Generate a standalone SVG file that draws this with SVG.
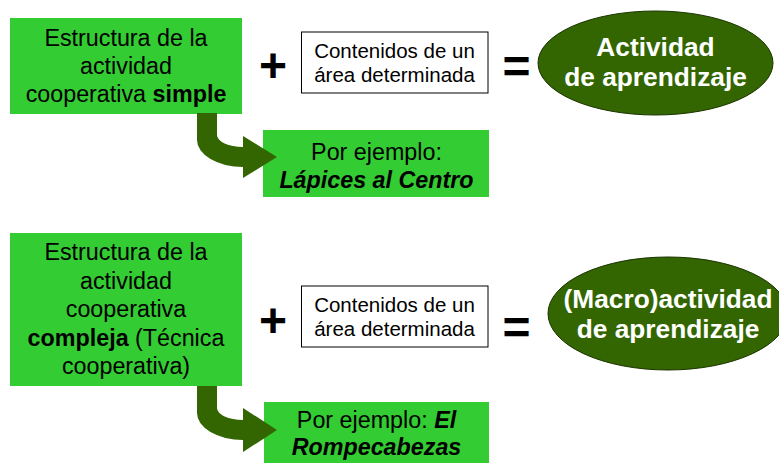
<svg xmlns="http://www.w3.org/2000/svg" width="779" height="463" viewBox="0 0 779 463">
<style>
  .g{fill:#33cc33}
  .w{fill:#ffffff;stroke:#000000;stroke-width:1}
  .e{fill:#336600;stroke:#1a3300;stroke-width:1}
  .t{font-family:"Liberation Sans",Arial,sans-serif;fill:#000000;text-anchor:middle}
  .tg{font-size:23.3px}
  .tw{font-size:20.5px}
  .te{font-size:26.3px;font-weight:bold;fill:#ffffff}
  .op{font-family:"Liberation Sans",Arial,sans-serif;font-weight:bold;font-size:48px;text-anchor:middle;fill:#000}
  .b{font-weight:bold}
  .bi{font-weight:bold;font-style:italic}
  .arr{fill:#336600}
</style>
<rect width="779" height="463" fill="#ffffff"/>

<g id="box-simple">
  <rect class="g" x="10" y="18" width="232" height="96"/>
  <text class="t tg" x="126" y="45.5">Estructura de la</text>
  <text class="t tg" x="126" y="74">actividad</text>
  <text class="t tg" x="126" y="102">cooperativa <tspan class="b">simple</tspan></text>
</g>

<g id="plus1"><text class="op" x="273" y="82">+</text></g>

<g id="contenidos1">
  <rect class="w" x="301.5" y="32" width="186.5" height="61"/>
  <text class="t tw" x="394.5" y="58">Contenidos de un</text>
  <text class="t tw" x="394.5" y="82">área determinada</text>
</g>

<g id="equals1"><text class="op" x="516.5" y="83">=</text></g>

<g id="actividad1">
  <ellipse class="e" cx="655.5" cy="63" rx="117.5" ry="52"/>
  <text class="t te" x="655.5" y="56">Actividad</text>
  <text class="t te" x="655.5" y="86">de aprendizaje</text>
</g>

<g id="ejemplo1">
  <rect class="g" x="263" y="130" width="226" height="67"/>
  <text class="t tg" x="376.5" y="160">Por ejemplo:</text>
  <text class="t tg bi" x="376.5" y="188">Lápices al Centro</text>
</g>

<g id="box-compleja">
  <rect class="g" x="10" y="233" width="232" height="153"/>
  <text class="t tg" x="126" y="260">Estructura de la</text>
  <text class="t tg" x="126" y="288.5">actividad</text>
  <text class="t tg" x="126" y="317">cooperativa</text>
  <text class="t tg" x="126" y="345.5"><tspan class="b">compleja</tspan> (Técnica</text>
  <text class="t tg" x="126" y="374">cooperativa)</text>
</g>

<g id="plus2"><text class="op" x="273" y="336.5">+</text></g>

<g id="contenidos2">
  <rect class="w" x="301.5" y="286" width="186.5" height="61"/>
  <text class="t tw" x="394.5" y="312">Contenidos de un</text>
  <text class="t tw" x="394.5" y="336">área determinada</text>
</g>

<g id="equals2"><text class="op" x="516.5" y="344">=</text></g>

<g id="actividad2">
  <ellipse class="e" cx="668" cy="313.5" rx="120" ry="56.5"/>
  <text class="t te" x="668" y="308">(Macro)actividad</text>
  <text class="t te" x="668" y="338">de aprendizaje</text>
</g>

<g id="ejemplo2">
  <rect class="g" x="264" y="402" width="225" height="61"/>
  <text class="t tg" x="376.5" y="428"><tspan>Por ejemplo: </tspan><tspan class="bi">El</tspan></text>
  <text class="t tg bi" x="376.5" y="455">Rompecabezas</text>
</g>

<g id="connectors">
  <path class="arr" d="M197,113 L217,113 L217,135 A26,12 0 0 0 243,147 L243,136 L277,157 L243,178 L243,167 A46,27 0 0 1 197,140 Z"/>
  <path class="arr" d="M197,386 L217,386 L217,408 A26,12 0 0 0 243,420 L243,408 L277,430 L243,452 L243,440 A46,27 0 0 1 197,413 Z"/>
</g>
</svg>
